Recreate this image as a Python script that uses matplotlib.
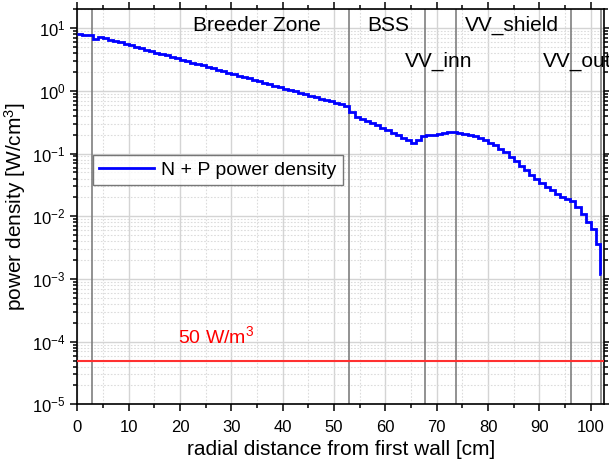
import matplotlib
matplotlib.use("Agg")
import matplotlib.pyplot as plt
import matplotlib.ticker as mticker
import numpy as np

plt.rcParams["font.family"] = ["Liberation Sans", "DejaVu Sans"]
plt.rcParams["mathtext.default"] = "regular"
plt.rcParams["axes.unicode_minus"] = False

# bin edges [cm] and power density per bin [W/cm3]
edges = list(range(0, 102)) + [101.8, 102.0]
density = [
    8.1, 7.9, 7.7, 6.7, 7.35, 6.97, 6.61, 6.27, 5.94, 5.64,
    5.35, 5.07, 4.81, 4.56, 4.33, 4.10, 3.89, 3.69, 3.50, 3.32,
    3.15, 2.99, 2.83, 2.69, 2.55, 2.42, 2.29, 2.17, 2.06, 1.95,
    1.85, 1.76, 1.67, 1.58, 1.50, 1.42, 1.35, 1.28, 1.21, 1.15,
    1.09, 1.035, 0.982, 0.931, 0.883, 0.838, 0.794, 0.753, 0.714, 0.678,
    0.643, 0.610, 0.578, 0.46, 0.385, 0.355, 0.331, 0.313, 0.282, 0.257,
    0.234, 0.214, 0.195, 0.178, 0.162, 0.148, 0.166, 0.19, 0.20, 0.20,
    0.204, 0.214, 0.222, 0.219, 0.214, 0.209, 0.20, 0.19, 0.178, 0.166,
    0.148, 0.135, 0.120, 0.105, 0.089, 0.076, 0.0646, 0.055, 0.0457, 0.0389,
    0.0339, 0.0295, 0.0263, 0.0229, 0.020, 0.0186, 0.0174, 0.0141, 0.0107, 0.0081,
    0.0063, 0.0036, 0.0012,
]

# zone boundaries [cm]
boundaries = [2.8, 53.0, 67.8, 73.8, 96.2, 102.0]
zone_names = ["Breeder Zone", "BSS", "VV_inn", "VV_shield", "VV_out"]
zone_x = [35.0, 60.5, 70.3, 84.6, 90.6]
zone_y = [11.0, 11.0, 3.0, 11.0, 3.0]
zone_ha = ["center", "center", "center", "center", "left"]

limit = 5e-5  # 50 W/m3 in W/cm3

fig = plt.figure(figsize=(6.09, 4.68), dpi=100)
ax = fig.add_axes([0.127, 0.136, 0.865, 0.844])

ax.set_yscale("log")
ax.set_xlim(0, 102.6)
ax.set_ylim(1e-5, 20)

ax.grid(True, which="major", color="#d4d4d4", lw=1.0, ls="-")
ax.grid(True, which="minor", color="#dcdcdc", lw=0.8, ls=(0, (1.5, 1.5)))
ax.set_axisbelow(True)

for b in boundaries:
    ax.axvline(b, color="#7f7f7f", lw=1.2, zorder=2)

ax.axhline(limit, color="#ff3030", lw=1.5, zorder=3)
ax.text(19.6, 8.2e-5, "50 W/m$^3$", color="#ff0000", fontsize=14,
        ha="left", va="bottom")

ax.stairs(density, edges, baseline=None, color="#0000ff", lw=2,
          label="N + P power density", zorder=4)

for name, x, y, ha in zip(zone_names, zone_x, zone_y, zone_ha):
    ax.text(x, y, name, fontsize=15, ha=ha, va="center", clip_on=False)

ax.xaxis.set_major_locator(mticker.MultipleLocator(10))
ax.xaxis.set_minor_locator(mticker.MultipleLocator(5))
ax.yaxis.set_major_locator(mticker.LogLocator(base=10, numticks=20))
ax.yaxis.set_minor_locator(mticker.LogLocator(base=10, subs=np.arange(2, 10), numticks=20))
ax.yaxis.set_minor_formatter(mticker.NullFormatter())

ax.tick_params(which="both", direction="out", labelsize=12, width=1.1,
               right=True)
ax.tick_params(which="major", length=5)
ax.tick_params(which="minor", length=3)
ax.tick_params(axis="x", which="both", top=True, labeltop=False, pad=6)
for sp in ax.spines.values():
    sp.set_linewidth(1.2)

ax.set_xlabel("radial distance from first wall [cm]", fontsize=15, labelpad=4)
ax.set_ylabel("power density [W/cm$^3$]", fontsize=15, labelpad=3)

leg = ax.legend(loc="upper left", bbox_to_anchor=(0.012, 0.655), fontsize=14,
                frameon=True, fancybox=False, handlelength=2.8,
                borderpad=0.3, handletextpad=0.4)
leg.get_frame().set_edgecolor("#555555")
leg.get_frame().set_linewidth(1.0)

fig.savefig("out.png", dpi=100)
